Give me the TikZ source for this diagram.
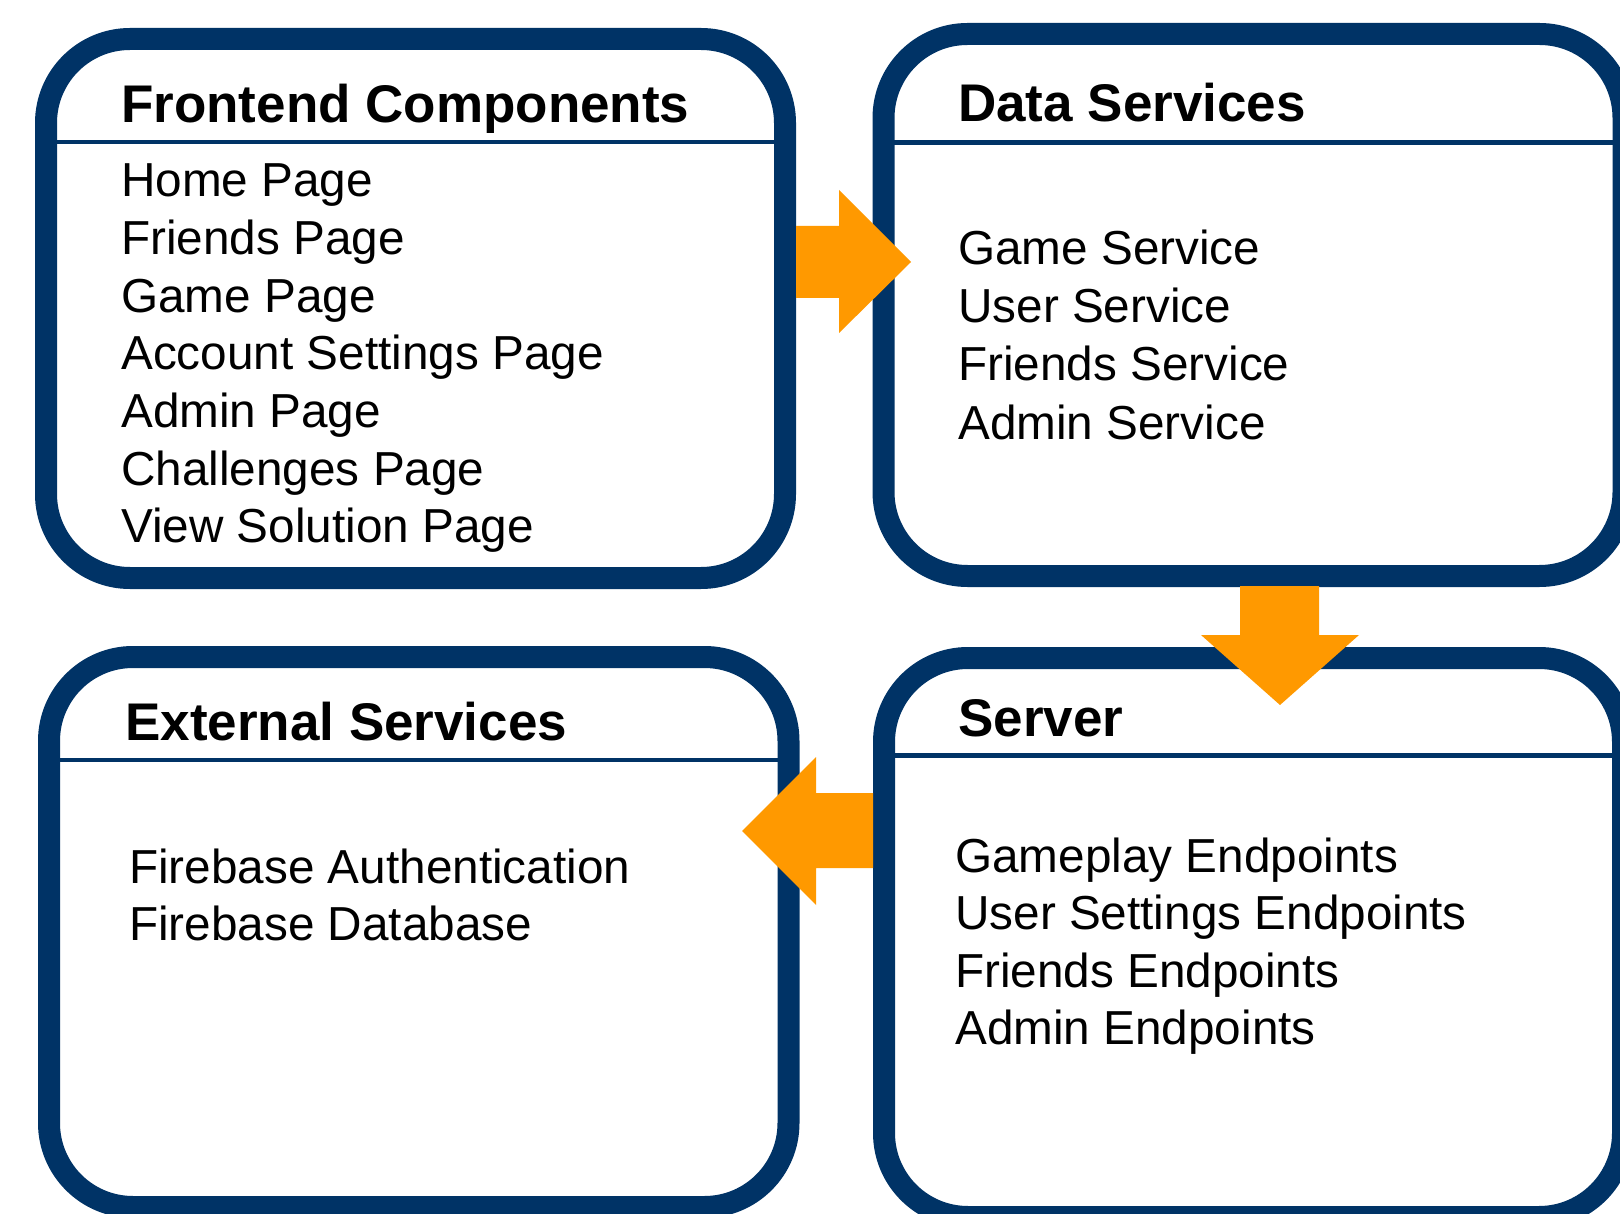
\documentclass[tikz,border=0pt]{standalone}
\usepackage{fontspec}
\setmainfont{Liberation Sans}
\newcommand{\LH}{57.6}
\definecolor{archnavy}{RGB}{0,51,102}
\definecolor{archflow}{RGB}{255,153,0}

\begin{document}
\begin{tikzpicture}[
    x=1pt, y=-1pt,
    panel/.style={rectangle, draw=archnavy, fill=white, line width=22pt, rounded corners=84pt, inner sep=0pt, outer sep=0pt},
    rule/.style={draw=archnavy, line width=4.5pt},
    title/.style={anchor=base west, inner sep=0pt, font=\fontsize{53}{60}\selectfont\bfseries},
    item/.style={anchor=base west, inner sep=0pt, font=\fontsize{47.7}{57.6}\selectfont},
    flow/.style={fill=archflow},
  ]
  \useasboundingbox[fill=white] (0,0) rectangle (1620,1214);

  % the four panels
  \node[panel, minimum width=739pt, minimum height=539pt] (front) at (415.5,308.5) {};
  \node[panel, minimum width=740pt, minimum height=542pt] (data)  at (1253.5,305) {};
  \node[panel, minimum width=739.5pt, minimum height=550pt] (ext) at (418.75,932) {};
  \node[panel, minimum width=739pt, minimum height=559pt] (srv) at (1253.5,937.5) {};

  \draw[rule] (46,142) -- (785,142);
  \draw[rule] (883.5,142.5) -- (1623.5,142.5);
  \draw[rule] (49,760) -- (788.5,760);
  \draw[rule] (884,755.5) -- (1623,755.5);

  \node[title] (fetitle)  at (121,122.5) {Frontend Components};
  \node[title] (dstitle)  at (958,122)   {Data Services};
  \node[title] (extitle)  at (125,740)   {External Services};
  \node[title] (svtitle)  at (958,736)   {Server};

  \foreach \txt [count=\k from 0] in {Home Page, Friends Page, Game Page, Account Settings Page, Admin Page, Challenges Page, View Solution Page} {
    \node[item] (fe\k) at (121,{197+\k*\LH}) {\txt};
  }
  \foreach \txt [count=\k from 0] in {Game Service, User Service, Friends Service, Admin Service} {
    \node[item] (ds\k) at (958,{265+\k*58}) {\txt};
  }
  \foreach \txt [count=\k from 0] in {Firebase Authentication, Firebase Database} {
    \node[item] (ex\k) at (129,{883+\k*\LH}) {\txt};
  }
  \foreach \txt [count=\k from 0] in {Gameplay Endpoints, User Settings Endpoints, Friends Endpoints, Admin Endpoints} {
    \node[item] (sv\k) at (955,{872+\k*57.5}) {\txt};
  }

  % block arrows between the panels
  \fill[flow] (796,226) -- (839,226) -- (839,190) -- (911,262) -- (839,333) -- (839,298) -- (796,298) -- cycle;
  \fill[flow] (1240,586) -- (1240,635) -- (1201,635) -- (1280,705) -- (1359,635) -- (1319,635) -- (1319,586) -- cycle;
  \fill[flow] (873,793) -- (816,793) -- (816,757) -- (742,831) -- (816,905) -- (816,868) -- (873,868) -- cycle;

\end{tikzpicture}
\end{document}
